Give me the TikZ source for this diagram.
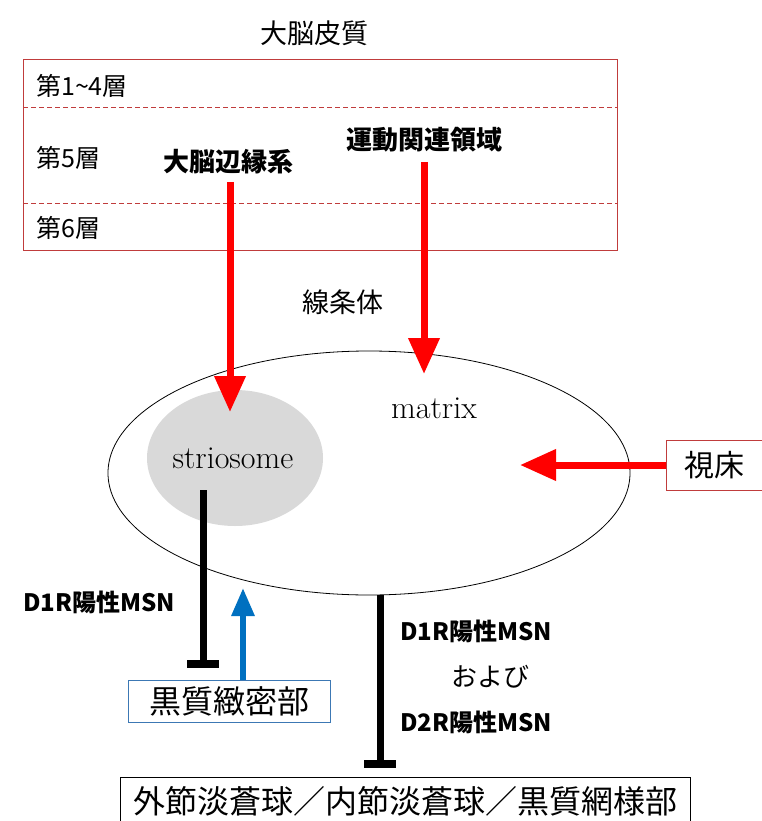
\documentclass[tikz,border=0pt]{standalone}
\usepackage{fontspec}
\newfontfamily\cjk{Noto Sans CJK JP}
\usetikzlibrary{arrows.meta}
\definecolor{boxred}{RGB}{192,60,60}
\definecolor{arrred}{RGB}{255,0,0}
\definecolor{arrblue}{RGB}{0,112,192}
\definecolor{boxblue}{RGB}{60,120,180}
\definecolor{lightgray}{RGB}{217,217,217}
\begin{document}
\begin{tikzpicture}[x=1pt,y=-1pt,
  fs/.style={font=\cjk\fontsize{#1}{#1}\selectfont},
  fsb/.style={font=\cjk\bfseries\fontsize{#1}{#1}\selectfont},
  redarrow/.style={draw=arrred, line width=7pt, -{Triangle[length=36pt,width=30pt]}},
  bluearrow/.style={draw=arrblue, line width=6pt, -{Triangle[length=28pt,width=22pt]}},
  inhib/.style={draw=black, line width=7pt, -{Rectangle[length=8pt,width=32pt]}},
  layer/.style={draw=boxred, line width=1pt, dash pattern=on 5pt off 3pt},
  txt/.style={inner sep=0pt, anchor=center}]
\useasboundingbox (0,0) rectangle (761,821);
% cortex
\node[txt, fs=27] (cortex) at (314,33) {大脳皮質};
\draw[boxred, line width=1pt] (23,60) rectangle (617,250);
\draw[layer] (23,108) -- (617,108);
\draw[layer] (23,203) -- (617,203);
\node[txt, fs=25, anchor=west] (l14) at (36,86) {第1\textasciitilde4層};
\node[txt, fs=25, anchor=west] (l5) at (36,158) {第5層};
\node[txt, fs=25, anchor=west] (l6) at (36,228) {第6層};
\node[txt, fsb=26] (limbic) at (228,162) {大脳辺縁系};
\node[txt, fsb=26] (motor) at (424,140) {運動関連領域};
% striatum
\node[txt, fs=27] (striatum) at (343,302) {線条体};
\draw[black, line width=0.8pt] (369,473) ellipse [x radius=261, y radius=122];
\fill[lightgray] (235,458) ellipse [x radius=88, y radius=68];
\node[txt, font=\fontsize{32}{32}\selectfont] (strio) at (233,458) {striosome};
\node[txt, font=\fontsize{32}{32}\selectfont] (matrix) at (434,408) {matrix};
% thalamus
\node[draw=boxred, line width=1pt, minimum width=96pt, minimum height=50pt, fs=30, inner sep=0pt] (thal) at (714,465) {視床};
% arrows from cortex
\coordinate (a1s) at (230,182);
\coordinate (a1e) at (230,412);
\coordinate (a2s) at (424,162);
\coordinate (a2e) at (424,374);
\coordinate (a3e) at (520,465);
\draw[redarrow] (a1s) -- (a1e);
\draw[redarrow] (a2s) -- (a2e);
\draw[redarrow] (thal.west) -- (a3e);
% SNc
\node[draw=boxblue, line width=1pt, minimum width=202pt, minimum height=42pt, fs=32, inner sep=0pt] (snc) at (229,701) {黒質緻密部};
\coordinate (i1s) at (203,490);
\coordinate (i1e) at (203,668);
\draw[inhib] (i1s) -- (i1e);
\coordinate (b1s) at (243,680);
\coordinate (b1e) at (243,588);
\draw[bluearrow] (b1s) -- (b1e);
\node[txt, fsb=24, anchor=west] (d1a) at (23,602) {D1R陽性MSN};
% output
\node[draw=black, line width=1pt, minimum width=570pt, minimum height=48pt, fs=32, inner sep=0pt] (out) at (405,801) {外節淡蒼球／内節淡蒼球／黒質網様部};
\coordinate (i2s) at (380,595);
\coordinate (i2e) at (380,768);
\draw[inhib] (i2s) -- (i2e);
\node[txt, fsb=24, anchor=west] (d1b) at (400,631) {D1R陽性MSN};
\node[txt, fs=26] (oyobi) at (490,677) {および};
\node[txt, fsb=24, anchor=west] (d2b) at (400,722) {D2R陽性MSN};
\end{tikzpicture}
\end{document}
